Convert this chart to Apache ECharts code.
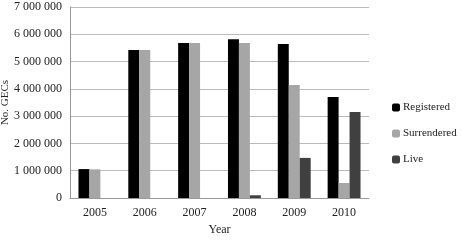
<!DOCTYPE html>
<html>
<head>
<meta charset="utf-8">
<script src="https://cdn.jsdelivr.net/npm/echarts@6/dist/echarts.min.js"></script>
<style>
  html, body { margin: 0; padding: 0; background: #fff; }
  #chart { width: 462px; height: 244px; }
</style>
</head>
<body>
<div id="chart"></div>
<script>
(function() {
  var years = ["2005", "2006", "2007", "2008", "2009", "2010"];
  var registered = [1060000, 5420000, 5680000, 5820000, 5640000, 3700000];
  var surrendered = [1050000, 5420000, 5680000, 5680000, 4140000, 550000];
  var live = [0, 0, 0, 100000, 1470000, 3150000];

  var myChart = echarts.init(document.getElementById("chart"));
  var font = "Liberation Serif";

  var option = {
    animation: false,
    textStyle: { fontFamily: font },
    grid: { left: 70, right: 93, top: 7, bottom: 46, outerBoundsMode: "none", containLabel: false },
    legend: {
      orient: "vertical",
      left: 387,
      top: 97,
      itemWidth: 8,
      itemHeight: 8,
      itemGap: 15,
      textStyle: { fontFamily: font, fontSize: 11, color: "#222", padding: [0, 0, 0, -2] },
      data: ["Registered", "Surrendered", "Live"]
    },
    xAxis: {
      type: "category",
      data: years,
      name: "Year",
      nameLocation: "middle",
      nameGap: 23,
      nameTextStyle: { fontFamily: font, fontSize: 12, color: "#222" },
      axisLine: { lineStyle: { color: "#999" } },
      axisTick: { show: false },
      axisLabel: { fontFamily: font, fontSize: 12, color: "#222", margin: 9 }
    },
    yAxis: {
      type: "value",
      min: 0,
      max: 7000000,
      interval: 1000000,
      name: "No. GECs",
      nameLocation: "middle",
      nameGap: 59,
      nameMoveOverlap: false,
      nameTextStyle: { fontFamily: font, fontSize: 11, color: "#222" },
      axisLine: { show: true, lineStyle: { color: "#999" } },
      axisTick: { show: false },
      splitLine: { lineStyle: { color: "#bbb" } },
      axisLabel: {
        fontFamily: font,
        fontSize: 12,
        color: "#222",
        margin: 8,
        formatter: function(v) {
          return String(v).replace(/\B(?=(\d{3})+(?!\d))/g, " ");
        }
      }
    },
    series: [
      {
        name: "Registered",
        type: "bar",
        data: registered,
        barGap: "0%",
        barCategoryGap: "34%",
        itemStyle: { color: "#000" }
      },
      {
        name: "Surrendered",
        type: "bar",
        data: surrendered,
        itemStyle: { color: "#a6a6a6" }
      },
      {
        name: "Live",
        type: "bar",
        data: live,
        itemStyle: { color: "#404040" }
      }
    ]
  };
  myChart.setOption(option);
})();
</script>
</body>
</html>
